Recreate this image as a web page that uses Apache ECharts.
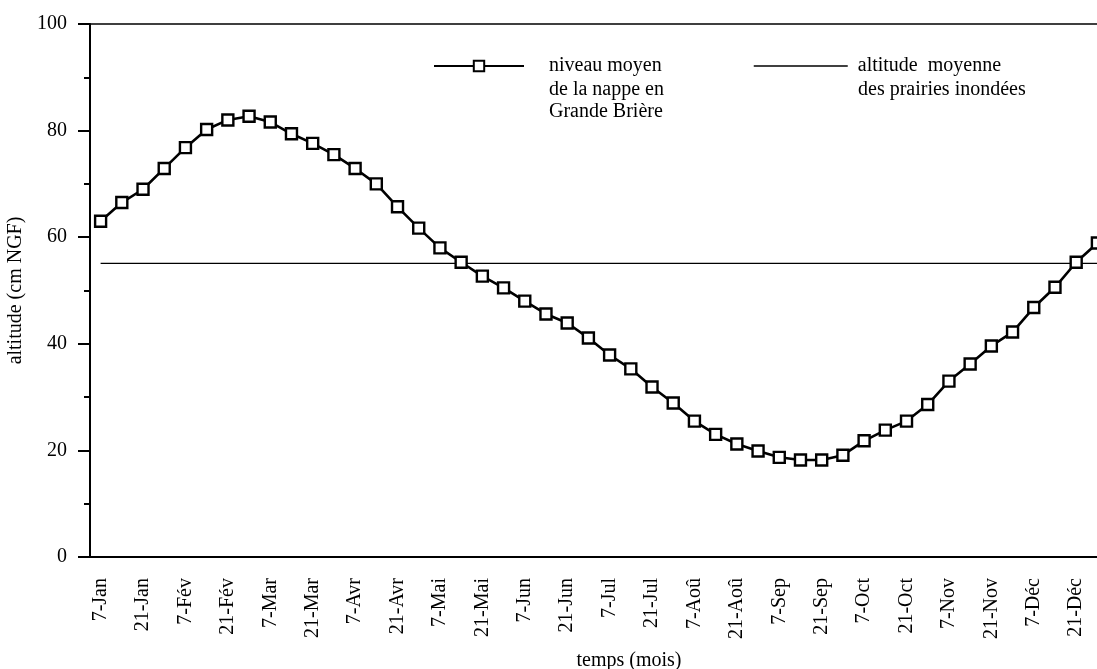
<!DOCTYPE html>
<html>
<head>
<meta charset="utf-8">
<title>niveau de la nappe</title>
<script src="https://cdn.jsdelivr.net/npm/echarts@6/dist/echarts.min.js"></script>
<style>
    html, body { margin: 0; padding: 0; background: #fff; }
    #chart { width: 1097px; height: 669px; }
</style>
</head>
<body>
<div id="chart"></div>
<script>
// semaines (un point tous les 7 jours environ)
var semaines = ['7-Jan', '14-Jan', '21-Jan', '28-Jan', '7-Fév', '14-Fév', '21-Fév', '28-Fév',
    '7-Mar', '14-Mar', '21-Mar', '28-Mar', '7-Avr', '14-Avr', '21-Avr', '28-Avr',
    '7-Mai', '14-Mai', '21-Mai', '28-Mai', '7-Jun', '14-Jun', '21-Jun', '28-Jun',
    '7-Jul', '14-Jul', '21-Jul', '28-Jul', '7-Aoû', '14-Aoû', '21-Aoû', '28-Aoû',
    '7-Sep', '14-Sep', '21-Sep', '28-Sep', '7-Oct', '14-Oct', '21-Oct', '28-Oct',
    '7-Nov', '14-Nov', '21-Nov', '28-Nov', '7-Déc', '14-Déc', '21-Déc', '28-Déc'];

// niveau moyen de la nappe (cm NGF)
var niveauNappe = [63.0, 66.5, 69.0, 72.9, 76.8, 80.2, 82.0, 82.7,
    81.6, 79.4, 77.6, 75.5, 72.9, 70.0, 65.7, 61.7,
    58.0, 55.3, 52.7, 50.5, 48.0, 45.6, 43.9, 41.1,
    37.9, 35.3, 31.9, 28.9, 25.5, 23.0, 21.2, 19.9,
    18.7, 18.2, 18.2, 19.1, 21.8, 23.8, 25.5, 28.6,
    33.0, 36.2, 39.6, 42.2, 46.8, 50.6, 55.3, 58.9];

// altitude moyenne des prairies inondées
var altitudePrairies = 55.1;
var prairies = semaines.map(function() { return altitudePrairies; });

var yTicks = [0, 20, 40, 60, 80, 100];

// textes de la légende, ligne par ligne
var legendeNappe = ['niveau moyen', 'de la nappe en', 'Grande Brière'];
var legendePrairies = ['altitude  moyenne', 'des prairies inondées'];
var nomNappe = legendeNappe.join(' ');
var nomPrairies = legendePrairies.join(' ');

var police = "'Liberation Serif', 'DejaVu Serif', serif";
var fontTxt = '20px ' + police;

function ligneLegende(texte, x, y) {
    return {
        type: 'text',
        left: x,
        top: y,
        style: { text: texte, font: fontTxt, fill: '#000' }
    };
}

var myChart = echarts.init(document.getElementById('chart'));
var option = {
    backgroundColor: '#fff',
    animation: false,
    textStyle: { fontFamily: police, color: '#000' },
    grid: {
        left: 90,
        top: 24,
        width: 1018,
        bottom: 112,
        outerBoundsMode: 'none',
        containLabel: false,
        show: true,
        borderColor: '#000',
        borderWidth: 1.5,
        backgroundColor: 'transparent'
    },
    legend: [{
        data: [nomNappe],
        left: 433,
        top: 56,
        padding: 0,
        itemWidth: 90,
        itemHeight: 13,
        formatter: function() { return legendeNappe[0]; },
        textStyle: { fontFamily: police, fontSize: 20, color: '#000', padding: [0, 0, 0, 20] }
    }, {
        data: [nomPrairies],
        left: 753,
        top: 56,
        padding: 0,
        itemWidth: 94,
        itemHeight: 13,
        itemStyle: { opacity: 0 },
        lineStyle: { width: 1.5, color: '#000' },
        formatter: function() { return legendePrairies[0]; },
        textStyle: { fontFamily: police, fontSize: 20, color: '#000', padding: [0, 0, 0, 5] }
    }],
    graphic: [
        ligneLegende(legendeNappe[1], 549, 80),
        ligneLegende(legendeNappe[2], 549, 102),
        ligneLegende(legendePrairies[1], 858, 80)
    ],
    xAxis: [{
        type: 'category',
        data: semaines,
        boundaryGap: true,
        name: 'temps (mois)',
        nameLocation: 'middle',
        nameGap: 94,
        nameTextStyle: { fontFamily: police, fontSize: 20, color: '#000', padding: [0, 0, 0, 60] },
        axisLine: { lineStyle: { color: '#000', width: 2 } },
        axisTick: { interval: 0, alignWithLabel: true, length: 7, lineStyle: { color: '#000', width: 2 } },
        axisLabel: {
            interval: 1,
            rotate: 90,
            margin: 21,
            fontFamily: police,
            fontSize: 20,
            color: '#000'
        },
        splitLine: { show: false }
    }, {
        // graduations principales (une sur deux), placées sur l'axe du bas
        type: 'category',
        data: semaines,
        position: 'top',
        offset: -533,
        boundaryGap: true,
        axisLine: { show: false },
        axisTick: { inside: true, interval: 1, alignWithLabel: true, length: 12, lineStyle: { color: '#000', width: 2 } },
        axisLabel: { show: false },
        splitLine: { show: false }
    }],
    yAxis: {
        type: 'value',
        min: yTicks[0],
        max: yTicks[yTicks.length - 1],
        interval: 20,
        name: 'altitude (cm NGF)',
        nameLocation: 'middle',
        nameGap: 54,
        nameTextStyle: { fontFamily: police, fontSize: 20, color: '#000' },
        axisLine: { show: true, lineStyle: { color: '#000', width: 2 } },
        axisTick: { show: true, length: 12, lineStyle: { color: '#000', width: 2 } },
        minorTick: { show: true, splitNumber: 2, length: 6, lineStyle: { color: '#000', width: 2 } },
        axisLabel: { margin: 23, fontFamily: police, fontSize: 20, color: '#000' },
        splitLine: { show: false }
    },
    series: [{
        name: nomPrairies,
        type: 'line',
        data: prairies,
        symbol: 'none',
        lineStyle: { color: '#000', width: 1.2 },
        itemStyle: { color: '#000' },
        z: 2
    }, {
        name: nomNappe,
        type: 'line',
        data: niveauNappe,
        symbol: 'rect',
        symbolSize: 11,
        showAllSymbol: true,
        lineStyle: { color: '#000', width: 2.6 },
        itemStyle: { color: '#fff', borderColor: '#000', borderWidth: 2.4 },
        z: 3
    }]
};
myChart.setOption(option);
</script>
</body>
</html>
